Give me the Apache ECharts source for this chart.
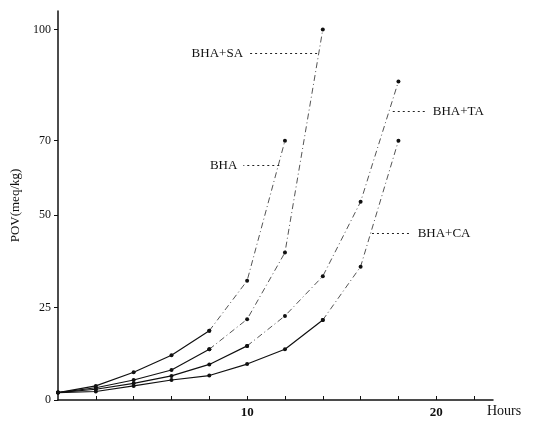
<!DOCTYPE html>
<html>
<head>
<meta charset="utf-8">
<title>POV</title>
<style>
body{margin:0;padding:0;background:#fff;}
#main{width:533px;height:421px;}
</style>
</head>
<body>
<div id="main"></div>
<script src="https://cdn.jsdelivr.net/npm/echarts@6/dist/echarts.min.js"></script>
<script>
// hours and POV values
var hours = [0, 2, 4, 6, 8, 10, 12, 14, 16, 18];
var bha   = [2.0, 3.8, 7.5, 12.1, 18.7, 32.2, 70];
var bhaSA = [2.0, 3.3, 5.4, 8.1, 13.7, 21.8, 39.8, 100];
var bhaTA = [2.0, 2.9, 4.5, 6.5, 9.6, 14.6, 22.7, 33.4, 53.5, 86];
var bhaCA = [2.0, 2.3, 3.8, 5.4, 6.6, 9.7, 13.7, 21.6, 36, 70];
var names = ['BHA', 'BHA+SA', 'BHA+TA', 'BHA+CA'];
var yTicks = [0, 25, 50, 70, 100];
var xTicks = [2, 4, 6, 8, 10, 12, 14, 16, 18, 20, 22];
var xLabels = [10, 20];
// leader lines: [x at curve, x at text, y]
var leaders = [
  [11.7, 9.8, 63.3],
  [13.7, 10.1, 93.5],
  [17.7, 19.5, 77.9],
  [16.6, 18.7, 45]
];

var values = [bha, bhaSA, bhaTA, bhaCA];
var solidUntil = [4, 4, 5, 7];   // last index drawn with a solid line
var font = 'Liberation Serif';

function pts(arr, from, to){
  var out = [];
  for (var i = from; i <= to && i < arr.length; i++) out.push([hours[i], arr[i]]);
  return out;
}

var series = [];
for (var s = 0; s < values.length; s++) {
  var v = values[s];
  series.push({
    name: names[s], type: 'line', data: pts(v, 0, solidUntil[s]),
    symbol: 'circle', symbolSize: 4, itemStyle: {color: '#111'},
    lineStyle: {color: '#111', width: 1.2}, animation: false, z: 3
  });
  series.push({
    name: names[s] + ' dash', type: 'line', data: pts(v, solidUntil[s], v.length - 1),
    symbol: 'circle', symbolSize: 4, itemStyle: {color: '#111'},
    lineStyle: {color: '#555', width: 1, type: [6, 3, 1, 3]}, animation: false, z: 3,
    markLine: {
      silent: true, symbol: 'none', animation: false,
      lineStyle: {color: '#222', width: 1, type: [2, 3]},
      label: {show: true, position: 'end', distance: 6, formatter: names[s],
              color: '#111', fontFamily: font, fontSize: 13},
      data: [[{coord: [leaders[s][0], leaders[s][2]]}, {coord: [leaders[s][1], leaders[s][2]]}]]
    }
  });
}

var myChart = echarts.init(document.getElementById('main'));
myChart.setOption({
  backgroundColor: '#fff',
  grid: {left: 58, right: 40, top: 11, bottom: 21, containLabel: false},
  xAxis: {
    type: 'value', min: 0, max: 23,
    name: 'Hours', nameLocation: 'end', nameGap: -6,
    nameTextStyle: {color: '#111', fontFamily: font, fontSize: 14, align: 'left',
                    verticalAlign: 'top', padding: [4, 0, 0, 0]},
    axisLine: {lineStyle: {color: '#111', width: 1.5}},
    axisTick: {inside: true, length: 4, customValues: xTicks, lineStyle: {color: '#111'}},
    axisLabel: {customValues: xLabels, margin: 6, color: '#111', fontFamily: font,
                fontSize: 13, fontWeight: 'bold'},
    splitLine: {show: false}
  },
  yAxis: {
    type: 'value', min: 0, max: 105,
    name: 'POV(meq/kg)', nameLocation: 'middle', nameGap: 26, nameRotate: 90,
    nameTextStyle: {color: '#111', fontFamily: font, fontSize: 13},
    axisLine: {show: true, lineStyle: {color: '#111', width: 1.5}},
    axisTick: {show: true, length: 4, customValues: yTicks, lineStyle: {color: '#111'}},
    axisLabel: {customValues: yTicks, margin: 7, color: '#111', fontFamily: font, fontSize: 12},
    splitLine: {show: false}
  },
  series: series
});
</script>
</body>
</html>
